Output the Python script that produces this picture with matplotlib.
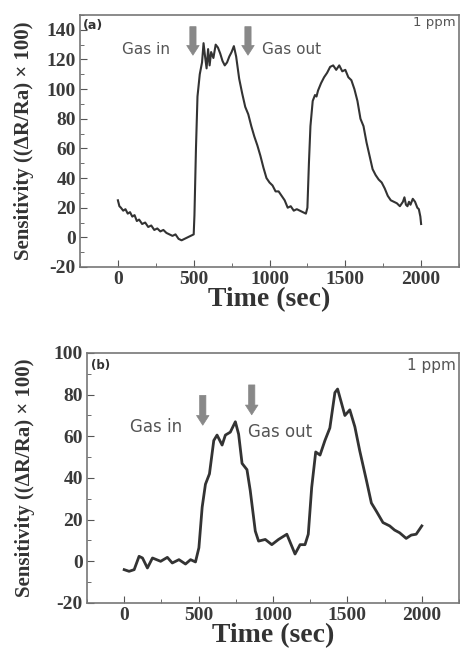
import matplotlib.pyplot as plt
from matplotlib.ticker import MultipleLocator

plt.rcParams['axes.unicode_minus'] = False

# panel (a) trace
a_time = [0, 10, 20, 35, 50, 65, 80, 95, 110, 125, 140, 160, 180, 200, 220, 240,
          260, 280, 300, 320, 340, 360, 380, 400, 420, 440, 460, 480, 500, 505,
          515, 525, 540, 555, 565, 575, 585, 595, 605, 615, 630, 645, 660, 675,
          690, 705, 720, 735, 750, 765, 780, 800, 820, 840, 860, 880, 900, 920,
          940, 960, 980, 1000, 1020, 1040, 1060, 1080, 1100, 1120, 1140, 1160,
          1180, 1200, 1220, 1240, 1250, 1260, 1270, 1285, 1300, 1310, 1320, 1340,
          1360, 1380, 1400, 1420, 1440, 1460, 1480, 1500, 1520, 1540, 1560, 1580,
          1600, 1620, 1640, 1660, 1680, 1700, 1720, 1740, 1760, 1780, 1800, 1820,
          1840, 1860, 1880, 1890, 1900, 1910, 1920, 1930, 1945, 1960, 1975, 1985,
          1995, 2000]
a_sens = [25, 21, 20, 18, 19, 16, 17, 14, 15, 11, 12, 9, 10, 7, 8, 5,
          6, 4, 5, 3, 2, 1, 2, -1, -2, -1, 0, 1, 2, 15,
          60, 95, 110, 118, 131, 122, 114, 127, 116, 125, 121, 130, 128, 124,
          119, 116, 118, 122, 125, 129, 122, 107, 97, 88, 83, 75, 68, 62,
          55, 47, 40, 37, 35, 31, 31, 28, 25, 20, 21, 18,
          19, 18, 17, 16, 20, 50, 75, 92, 96, 95, 99, 104,
          108, 111, 115, 116, 113, 116, 112, 113, 108, 106, 100, 92,
          80, 75, 64, 55, 46, 42, 39, 37, 33, 28, 25, 24,
          23, 21, 24, 27, 22, 21, 24, 22, 26, 24, 20, 19,
          14, 9]

# panel (b) trace
b_time = [0, 33, 67, 100, 123, 156, 190, 245, 290, 323, 368, 412, 446, 479, 502,
          524, 546, 573, 602, 624, 658, 680, 713, 747, 769, 792, 825, 847, 881,
          903, 948, 992, 1037, 1093, 1126, 1148, 1182, 1215, 1237, 1260, 1287,
          1316, 1349, 1382, 1416, 1434, 1460, 1483, 1516, 1550, 1583, 1628, 1661,
          1695, 1739, 1784, 1817, 1851, 1895, 1929, 1962, 2000]
b_sens = [-4, -4.8, -4, 2.4, 1.6, -3.2, 1.6, 0, 1.9, -0.8, 0.8, -1.3, 0.8, -0.3, 6.5,
          26, 37, 42, 58, 60.6, 55.8, 60.6, 62, 67, 61, 47, 44, 34, 14.5,
          9.7, 10.5, 8, 10.5, 13, 7.3, 3.5, 8, 8, 13, 35.5, 52.5,
          51, 58, 64, 81, 82.7, 76, 70, 72.7, 64.6, 53, 38.8, 28,
          24, 18.6, 17, 15, 13.7, 11, 12.6, 13, 17]

serif = 'Liberation Serif'
line_col = '#333333'
text_col = '#555555'

fig = plt.figure(figsize=(4.61, 6.49), dpi=100)
ax1 = fig.add_axes([0.1735, 0.5886, 0.8222, 0.3883])
ax2 = fig.add_axes([0.1887, 0.0709, 0.8070, 0.3852])


def style(ax, ylim, ymajor, yminor, ylabel_x):
    ax.set_xlim(-250, 2250)
    ax.set_ylim(*ylim)
    ax.xaxis.set_major_locator(MultipleLocator(500))
    ax.xaxis.set_minor_locator(MultipleLocator(250))
    ax.yaxis.set_major_locator(MultipleLocator(ymajor))
    ax.yaxis.set_minor_locator(MultipleLocator(yminor))
    ax.tick_params(which='both', direction='in', colors='#555555', labelcolor='#3a3a3a', pad=3)
    ax.tick_params(which='major', length=5)
    ax.tick_params(which='minor', length=3)
    for lab in ax.get_xticklabels() + ax.get_yticklabels():
        lab.set_fontfamily(serif)
        lab.set_fontweight('bold')
        lab.set_fontsize(14)
    for sp in ax.spines.values():
        sp.set_color('#777777')
        sp.set_linewidth(1.2)
    ax.set_ylabel('Sensitivity ((ΔR/Ra) × 100)', fontfamily=serif, fontweight='bold',
                  fontsize=15, color='#333333')
    ax.yaxis.set_label_coords(ylabel_x, 0.5)
    ax.set_xlabel('Time (sec)', fontfamily=serif, fontweight='bold', fontsize=20,
                  color='#333333', labelpad=-1)


def arrow(ax, x, ytop, ybot):
    ax.annotate('', xy=(x, ybot), xytext=(x, ytop),
                arrowprops=dict(arrowstyle='simple,head_width=0.9,head_length=0.7,tail_width=0.45',
                                color='#888888', lw=0.5))


style(ax1, (-20, 150), 20, 10, -0.12)
ax1.plot(a_time, a_sens, color=line_col, lw=1.5)
ax1.text(-230, 143, '(a)', fontsize=9, fontweight='bold', color='#333333', va='center')
ax1.text(2230, 145, '1 ppm', fontsize=9.5, color=text_col, ha='right', va='center')
ax1.text(30, 126.5, 'Gas in', fontsize=11, color=text_col, va='center')
ax1.text(950, 126.5, 'Gas out', fontsize=11, color=text_col, va='center')
arrow(ax1, 495, 144, 121)
arrow(ax1, 858, 144, 121)

style(ax2, (-20, 100), 20, 10, -0.14)
ax2.plot(b_time, b_sens, color=line_col, lw=2)
ax2.text(-225, 94, '(b)', fontsize=8.5, fontweight='bold', color='#333333', va='center')
ax2.text(2230, 94, '1 ppm', fontsize=11, color=text_col, ha='right', va='center')
ax2.text(40, 64.5, 'Gas in', fontsize=12, color=text_col, va='center')
ax2.text(830, 62, 'Gas out', fontsize=12, color=text_col, va='center')
arrow(ax2, 528, 81, 64)
arrow(ax2, 857, 86, 69)

fig.savefig('out.png', dpi=100)
